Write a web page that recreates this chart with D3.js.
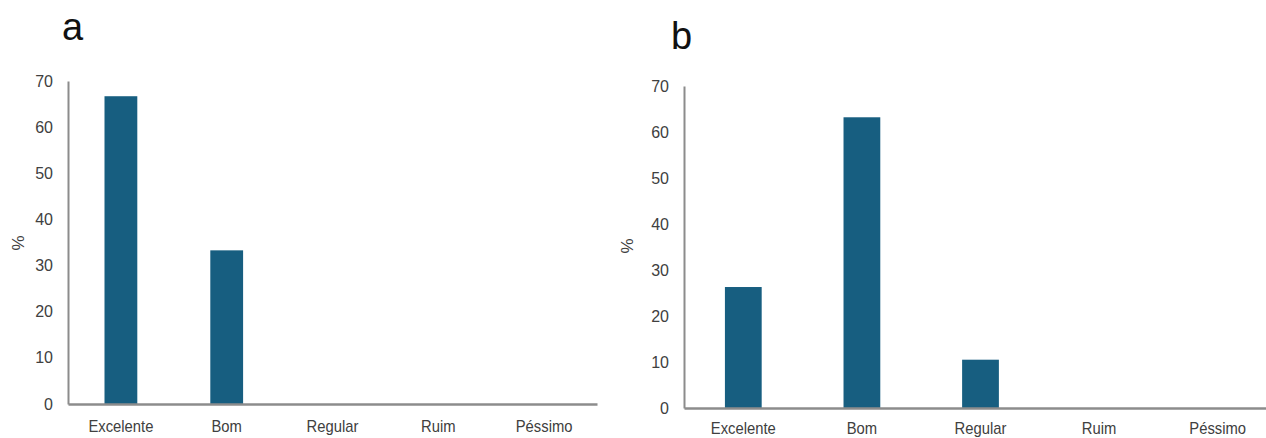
<!DOCTYPE html>
<html>
<head>
<meta charset="utf-8">
<script src="https://cdn.jsdelivr.net/npm/d3@7"></script>
<style>
  html, body { margin: 0; padding: 0; background: #fff; }
  svg { display: block; }
</style>
</head>
<body>
<svg id="chart" width="1266" height="438"></svg>
<script>
// ---- data ----
const categories = ["Excelente", "Bom", "Regular", "Ruim", "Péssimo"];
const valuesA = [66.7, 33.3, 0, 0, 0];
const valuesB = [26.3, 63.2, 10.5, 0, 0];
const yTicks = [0, 10, 20, 30, 40, 50, 60, 70];
const panelLabels = ["a", "b"];
const yAxisTitle = "%";

const barColor = "#175e80";
const axisColor = "#8c8c8c";
const textColor = "#404040";
const font = "'Liberation Sans', Arial, sans-serif";

const svg = d3.select("#chart");

const panels = [
  { label: panelLabels[0], values: valuesA, x0: 68, x1: 597, yTop: 81, yBase: 404,
    labelX: 62, labelY: 40, titleX: 20, titleY: 243, xPad: 16 },
  { label: panelLabels[1], values: valuesB, x0: 684, x1: 1277, yTop: 86, yBase: 408,
    labelX: 671, labelY: 49, titleX: 629, titleY: 246, xPad: 14 }
];

// condense text horizontally (narrow look of the original font)
function condense(sel, k) {
  sel.each(function () {
    const len = this.getComputedTextLength();
    d3.select(this).attr("textLength", len * k).attr("lengthAdjust", "spacingAndGlyphs");
  });
}

panels.forEach(p => {
  const g = svg.append("g");
  const x = d3.scaleBand().domain(categories).range([p.x0, p.x1]).paddingInner(0.69).paddingOuter(0.345);
  const y = d3.scaleLinear().domain([0, 70]).range([p.yBase, p.yTop]);

  // bars
  g.selectAll("rect.bar")
    .data(categories.map((c, i) => ({ c, v: p.values[i] })))
    .join("rect")
    .attr("class", "bar")
    .attr("x", d => x(d.c))
    .attr("width", x.bandwidth())
    .attr("y", d => y(d.v))
    .attr("height", d => y(0) - y(d.v))
    .attr("fill", barColor);

  // y axis
  const yAxis = g.append("g")
    .attr("transform", `translate(${p.x0},0)`)
    .call(d3.axisLeft(y).tickValues(yTicks).tickSize(0).tickSizeOuter(0).tickPadding(15));
  yAxis.select(".domain").attr("stroke", axisColor).attr("stroke-width", 2);
  yAxis.selectAll(".tick text")
    .attr("fill", textColor)
    .style("font-family", font)
    .style("font-size", "16px");

  // x axis
  const xAxis = g.append("g")
    .attr("transform", `translate(0,${p.yBase})`)
    .call(d3.axisBottom(x).tickSize(0).tickSizeOuter(0).tickPadding(p.xPad));
  xAxis.select(".domain").attr("stroke", axisColor).attr("stroke-width", 2.5);
  xAxis.selectAll(".tick text")
    .attr("fill", textColor)
    .style("font-family", font)
    .style("font-size", "17px")
    .call(condense, 0.87);

  // axis title
  g.append("text")
    .attr("transform", `translate(${p.titleX},${p.titleY}) rotate(-90)`)
    .attr("text-anchor", "middle")
    .attr("dominant-baseline", "middle")
    .attr("fill", textColor)
    .style("font-family", font)
    .style("font-size", "17px")
    .text(yAxisTitle);

  // panel label
  g.append("text")
    .attr("x", p.labelX)
    .attr("y", p.labelY)
    .attr("fill", "#111")
    .style("font-family", font)
    .style("font-size", "38px")
    .text(p.label);
});
</script>
</body>
</html>
